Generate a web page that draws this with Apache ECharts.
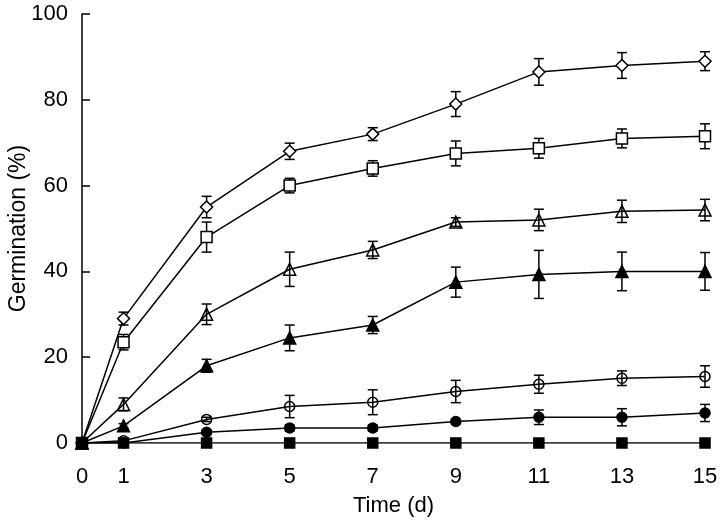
<!DOCTYPE html>
<html>
<head>
<meta charset="utf-8">
<script src="https://cdn.jsdelivr.net/npm/echarts@6/dist/echarts.min.js"></script>
<style>
  html, body { margin: 0; padding: 0; background: #fff; }
  #chart { width: 720px; height: 522px; }
</style>
</head>
<body>
<div id="chart"></div>
<script>
// sampling days and tick labels
const days = [0, 1, 3, 5, 7, 9, 11, 13, 15]
const xTickLabels = [0, 1, 3, 5, 7, 9, 11, 13, 15]

// germination (%) per treatment, with error
const diamondOpen = [0, 29, 55, 68, 72, 79, 86.5, 88, 89]
const diamondOpenErr = [0, 1.5, 2.5, 1.9, 1.5, 2.9, 3.1, 3, 2.2]
const squareOpen = [0, 23.5, 48, 60, 64, 67.5, 68.7, 71, 71.5]
const squareOpenErr = [0, 1.8, 3.5, 1.7, 1.8, 2.9, 2.3, 2.2, 2.9]
const triOpen = [0, 9, 30, 40.5, 45, 51.5, 52, 54, 54.3]
const triOpenErr = [0, 1.5, 2.4, 4, 2, 1, 2.5, 2.6, 2.5]
const triFilled = [0, 4, 18, 24.5, 27.5, 37.5, 39.3, 40, 40]
const triFilledErr = [0, 0.5, 1.5, 3, 2, 3.5, 5.6, 4.5, 4.4]
const circleOpen = [0, 0.5, 5.5, 8.5, 9.5, 12, 13.7, 15.1, 15.5]
const circleOpenErr = [0, 0, 0.5, 2.6, 2.9, 2.6, 2.1, 1.7, 2.5]
const circleFilled = [0, 0, 2.5, 3.5, 3.5, 5, 6, 6, 7]
const circleFilledErr = [0, 0, 0.5, 0.7, 0.7, 0.5, 1.7, 2, 2]
const squareFilled = [0, 0, 0, 0, 0, 0, 0, 0, 0]

const groups = [
  { name: 'diamondOpen', values: diamondOpen, err: diamondOpenErr, symbol: 'diamond', size: 12, fill: '#fff' },
  { name: 'squareOpen', values: squareOpen, err: squareOpenErr, symbol: 'rect', size: 11, fill: '#fff' },
  { name: 'triOpen', values: triOpen, err: triOpenErr, symbol: 'triangle', size: 12, fill: 'rgba(255,255,255,0)' },
  { name: 'triFilled', values: triFilled, err: triFilledErr, symbol: 'triangle', size: 12, fill: '#000' },
  { name: 'circleOpen', values: circleOpen, err: circleOpenErr, symbol: 'circle', size: 10, fill: 'rgba(255,255,255,0)' },
  { name: 'circleFilled', values: circleFilled, err: circleFilledErr, symbol: 'circle', size: 10, fill: '#000' },
  { name: 'squareFilled', values: squareFilled, err: null, symbol: 'rect', size: 10, fill: '#000' }
]

const font = 'Liberation Sans, Arial, sans-serif'

function errorBarItem(params, api) {
  const x = api.value(0)
  const y = api.value(1)
  const e = api.value(2)
  const hi = api.coord([x, y + e])
  const lo = api.coord([x, y - e])
  const cap = 5
  const style = { stroke: '#000', lineWidth: 1.5 }
  return {
    type: 'group',
    children: [
      { type: 'line', shape: { x1: hi[0], y1: hi[1], x2: lo[0], y2: lo[1] }, style },
      { type: 'line', shape: { x1: hi[0] - cap, y1: hi[1], x2: hi[0] + cap, y2: hi[1] }, style },
      { type: 'line', shape: { x1: lo[0] - cap, y1: lo[1], x2: lo[0] + cap, y2: lo[1] }, style }
    ]
  }
}

const series = []
groups.forEach(g => {
  if (g.err) {
    series.push({
      type: 'custom',
      name: g.name + 'Err',
      renderItem: errorBarItem,
      data: days.map((d, i) => [d, g.values[i], g.err[i]]).filter(p => p[2] > 0),
      z: 1,
      silent: true
    })
  }
  series.push({
    type: 'line',
    name: g.name,
    data: days.map((d, i) => [d, g.values[i]]),
    symbol: g.symbol,
    symbolSize: g.size,
    showAllSymbol: true,
    lineStyle: { color: '#000', width: 1.5 },
    itemStyle: { color: g.fill, borderColor: '#000', borderWidth: 1.5 },
    z: 2
  })
})

const chart = echarts.init(document.getElementById('chart'))
chart.setOption({
  animation: false,
  grid: { left: 82, right: 15, top: 14, bottom: 79, containLabel: false, outerBoundsMode: 'none' },
  xAxis: {
    type: 'value',
    min: 0,
    max: 15,
    interval: 1,
    name: 'Time (d)',
    nameLocation: 'middle',
    nameGap: 52,
    nameMoveOverlap: false,
    nameTextStyle: { fontFamily: font, fontSize: 22, color: '#000' },
    axisLine: { show: false },
    axisTick: { show: false },
    splitLine: { show: false },
    axisLabel: {
      margin: 23,
      fontFamily: font,
      fontSize: 22,
      color: '#000',
      formatter: v => (xTickLabels.includes(v) ? String(v) : '')
    }
  },
  yAxis: {
    type: 'value',
    min: 0,
    max: 100,
    interval: 20,
    name: 'Germination (%)',
    nameLocation: 'middle',
    nameGap: 52,
    nameMoveOverlap: false,
    nameTextStyle: { fontFamily: font, fontSize: 23, color: '#000' },
    axisLine: { show: true, lineStyle: { color: '#000', width: 1.5 } },
    axisTick: { show: true, inside: true, length: 8, lineStyle: { color: '#000', width: 1.5 } },
    splitLine: { show: false },
    axisLabel: { margin: 14, fontFamily: font, fontSize: 22, color: '#000' }
  },
  series
})
</script>
</body>
</html>
